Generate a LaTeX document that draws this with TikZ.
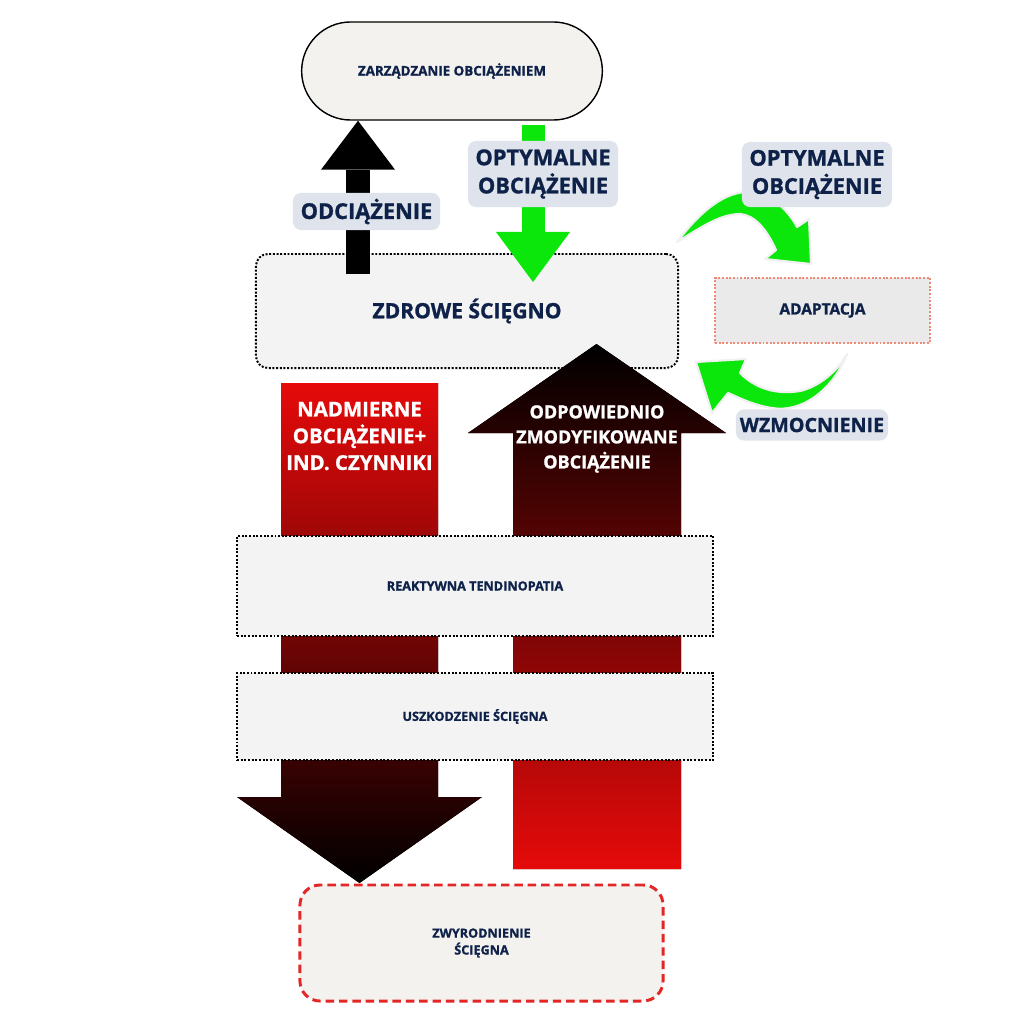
\documentclass[tikz,border=0pt]{standalone}
\usepackage{fontspec}
\setmainfont{Open Sans}[BoldFeatures={FakeBold=1.2}]
\usetikzlibrary{arrows.meta,shapes.misc,calc}

\definecolor{navy}{HTML}{0E2249}
\definecolor{boxgray}{HTML}{F3F3F3}
\definecolor{warmgray}{HTML}{F3F2EF}
\definecolor{adaptgray}{HTML}{EAEAEA}
\definecolor{tagfill}{HTML}{DFE3EB}
\definecolor{brightred}{HTML}{E60A0A}
\definecolor{arrowgreen}{HTML}{0BE60B}
\definecolor{salmon}{HTML}{F08A78}
\definecolor{dashred}{HTML}{E32626}
\definecolor{glow}{HTML}{F0F0F0}

\tikzset{
  stagebox/.style={draw=black, fill=boxgray, line width=1.4pt, dash pattern=on 1.4pt off 1.2pt,
    text=navy, font=\fontsize{9}{12}\selectfont\bfseries, align=center, inner sep=0pt},
  tag/.style={fill=tagfill, rounded corners=0.2cm, text=navy,
    font=\fontsize{15.5}{20}\selectfont\bfseries, align=center, inner sep=0pt},
  whitetxt/.style={text=white, align=center, inner sep=0pt},
  curvearr/.style={fill=arrowgreen, draw=glow, line width=1.5pt, line join=round}
}

\begin{document}
\begin{tikzpicture}[x=0.025cm, y=-0.025cm]
    \useasboundingbox (0,0) rectangle (1024,1024);
    \fill[white] (0,0) rectangle (1024,1024);

    % Top
    \node[rounded rectangle, draw=black, fill=warmgray, line width=1pt, minimum width=7.75cm,
      minimum height=2.45cm, text=navy, font=\fontsize{9.5}{12}\selectfont\bfseries] (zarz) at (452,71) {ZARZĄDZANIE OBCIĄŻENIEM};
    \node[stagebox, rounded corners=0.3cm, minimum width=10.55cm, minimum height=2.85cm,
      font=\fontsize{15}{18}\selectfont\bfseries] (zdrowe) at (467,311) {ZDROWE ŚCIĘGNO};

    % Big arrows
    \fill[top color=brightred, bottom color=black] (281,383) -- (438,383) -- (438,797) -- (482,797)
      -- (359.5,883) -- (237,797) -- (281,797) -- cycle;
    \node[whitetxt, font=\fontsize{14.5}{19}\selectfont\bfseries] (nadm) at (359.5,436) {NADMIERNE\\OBCIĄŻENIE+\\IND. CZYNNIKI};

    \fill[top color=black, bottom color=brightred] (596.5,344) -- (726,433) -- (681,433) -- (681,869)
      -- (513,869) -- (513,433) -- (468,433) -- cycle;
    \node[whitetxt, font=\fontsize{12.8}{17.8}\selectfont\bfseries] (odpow) at (597,439) {ODPOWIEDNIO\\ZMODYFIKOWANE\\OBCIĄŻENIE};

    % Stages
    \node[stagebox, minimum width=11.9cm, minimum height=2.5cm] (reakt) at (475,586) {REAKTYWNA TENDINOPATIA};
    \node[stagebox, minimum width=11.9cm, minimum height=2.175cm] (uszk) at (475,716.5) {USZKODZENIE ŚCIĘGNA};
    \node[stagebox, draw=dashred, fill=warmgray, line width=2.1pt, dash pattern=on 6pt off 3.5pt,
      rounded corners=0.5cm, minimum width=9.075cm, minimum height=2.9cm] (zwyr) at (481.5,943) {ZWYRODNIENIE\\ŚCIĘGNA};
    \node[stagebox, draw=salmon, fill=adaptgray, line width=1.2pt, font=\fontsize{11}{13}\selectfont\bfseries,
      minimum width=5.375cm, minimum height=1.625cm] (adapt) at (822.5,310.5) {ADAPTACJA};

    % Straight arrows
    \coordinate (blkx) at (358,0);
    \coordinate (grnx) at (533,0);
    \draw[black, line width=0.6cm, -{Triangle[width=1.85cm,length=1.225cm,line width=0pt]}]
      ([yshift=-0.525cm]zdrowe.north -| blkx) -- (zarz.south -| blkx);
    \draw[arrowgreen, line width=0.575cm, -{Triangle[width=1.85cm,length=1.25cm,line width=0pt]}]
      ([yshift=-0.1cm]zarz.south -| grnx) -- ([yshift=-0.725cm]zdrowe.north -| grnx);

    % Curved arrows
    \draw[curvearr] (677,242) .. controls (700,212) and (725,190) .. (752,192)
      .. controls (772,195) and (788,210) .. (797,227) -- (809,219) -- (811,264) -- (765,259) -- (776,250)
      .. controls (767,230) and (755,215) .. (740,214) .. controls (720,214) and (700,228) .. (677,242) -- cycle;
    \draw[curvearr] (847,354) .. controls (832,392) and (800,413) .. (772,408)
      .. controls (752,405) and (738,397) .. (728,393) -- (712,413) -- (696,362) -- (746,359) -- (740,373)
      .. controls (755,388) and (775,395) .. (800,391) .. controls (818,387) and (837,372) .. (847,354) -- cycle;

    % Tags
    \node[tag, minimum width=3.675cm, minimum height=0.925cm] (odc) at (366.5,211.5) {ODCIĄŻENIE};
    \node[tag, minimum width=3.75cm, minimum height=1.65cm] (opt1) at (543,174) {OPTYMALNE\\OBCIĄŻENIE};
    \node[tag, minimum width=3.75cm, minimum height=1.625cm] (opt2) at (817,174.5) {OPTYMALNE\\OBCIĄŻENIE};
    \node[tag, minimum width=3.8cm, minimum height=0.775cm, font=\fontsize{14}{17}\selectfont\bfseries] (wzm) at (812,425) {WZMOCNIENIE};
\end{tikzpicture}
\end{document}
